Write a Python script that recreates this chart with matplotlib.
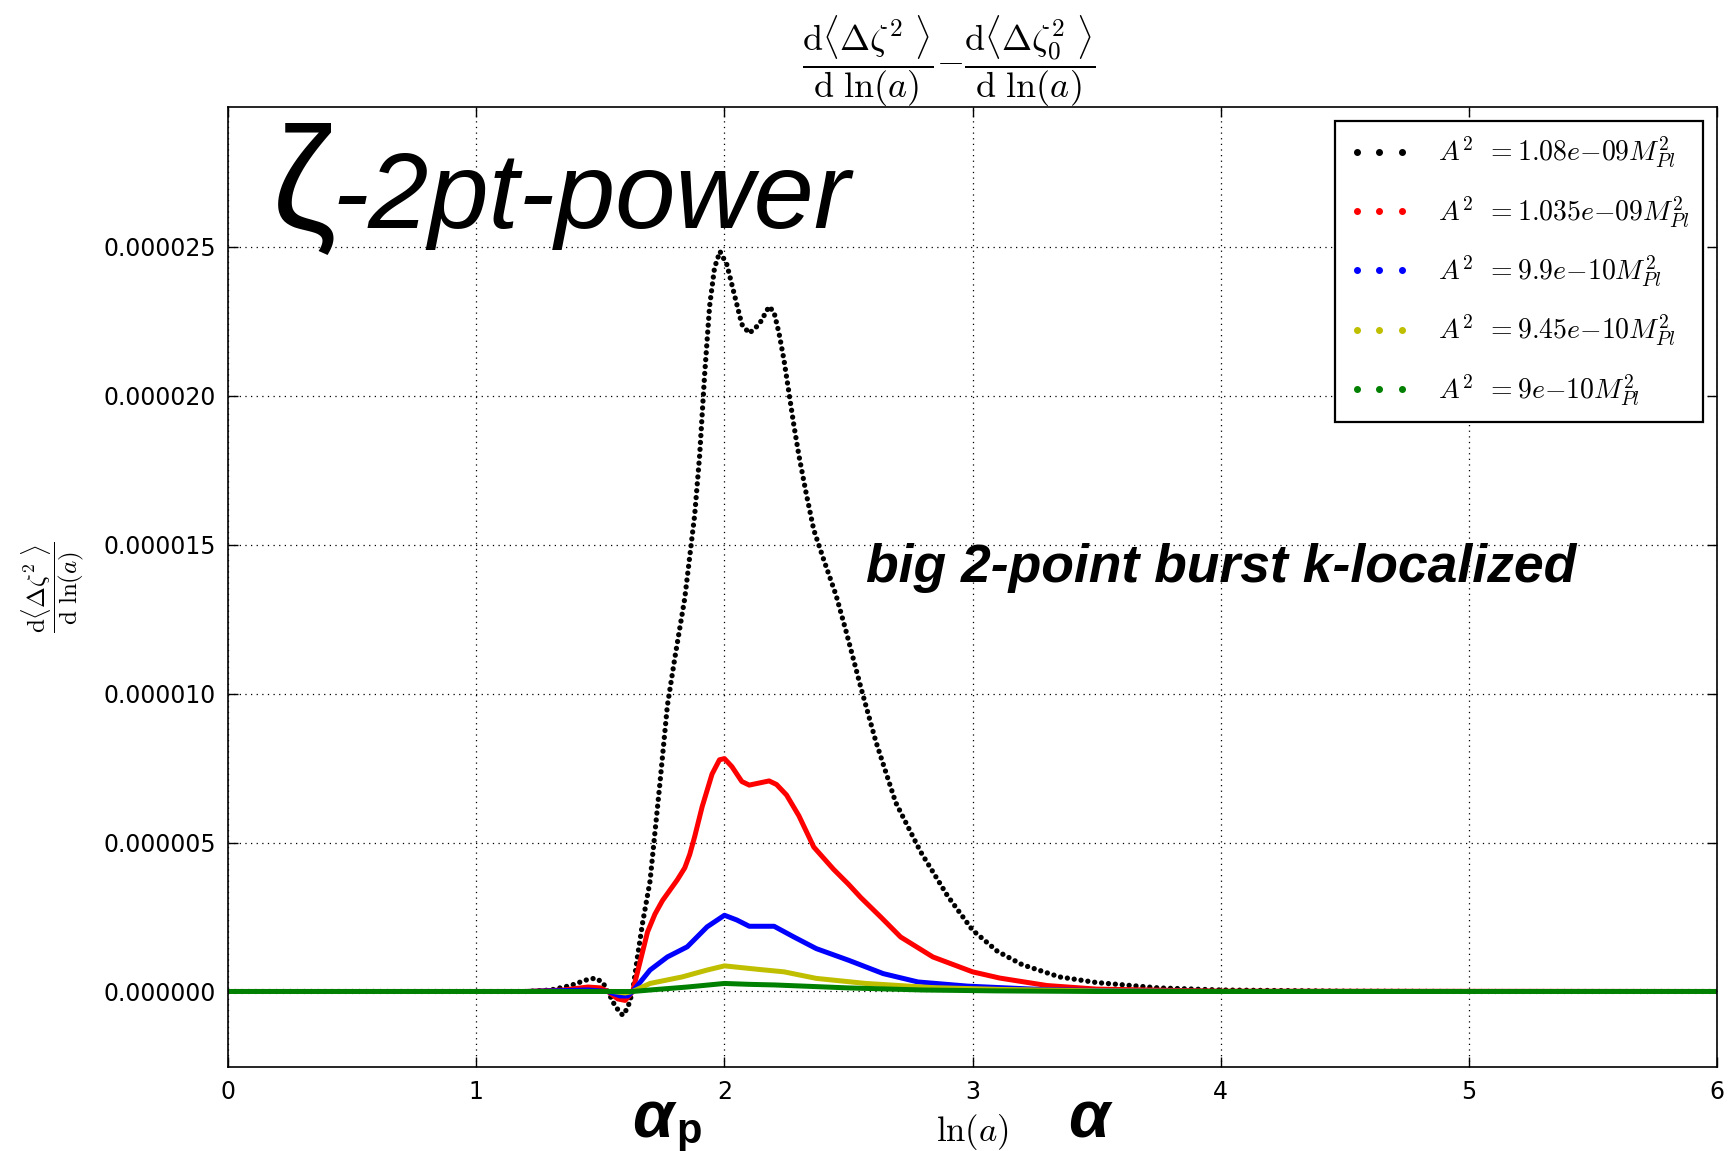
import matplotlib
matplotlib.use("Agg")
import matplotlib.pyplot as plt
from matplotlib.lines import Line2D
from matplotlib.ticker import FormatStrFormatter, MultipleLocator

plt.rcParams['mathtext.fontset'] = 'cm'
plt.rcParams['font.family'] = ['DejaVu Sans']

# ---- data (values in units of 1e-6) ----
x_black = [0.0, 1.0, 1.2, 1.3, 1.38, 1.44, 1.48, 1.51, 1.53, 1.56, 1.59, 1.61, 1.63, 1.65, 1.67,
           1.70, 1.74, 1.77, 1.80, 1.84, 1.88, 1.90, 1.92, 1.94, 1.96, 1.982, 2.01, 2.04, 2.07,
           2.10, 2.14, 2.18, 2.20, 2.22, 2.24, 2.26, 2.28, 2.30, 2.33, 2.36, 2.40, 2.45, 2.49,
           2.55, 2.61, 2.69, 2.79, 2.90, 3.00, 3.10, 3.20, 3.35, 3.50, 3.75, 4.00, 4.50, 5.00, 6.00]
y_black = [0.0, 0.0, 0.0, 0.05, 0.2, 0.38, 0.45, 0.3, 0.0, -0.5, -0.8, -0.55, 0.0, 1.2, 2.3,
           3.7, 7.0, 9.6, 11.2, 13.2, 16.0, 18.0, 20.7, 23.0, 24.3, 24.85, 24.4, 23.4, 22.4,
           22.1, 22.4, 23.0, 22.8, 22.1, 21.2, 20.1, 19.0, 18.0, 16.7, 15.5, 14.5, 13.3, 12.1,
           10.2, 8.4, 6.35, 4.7, 3.2, 2.06, 1.35, 0.9, 0.49, 0.3, 0.12, 0.05, 0.01, 0.0, 0.0]

x_red = [0.0, 1.2, 1.35, 1.45, 1.50, 1.53, 1.57, 1.60, 1.63, 1.66, 1.69, 1.72, 1.75, 1.78,
         1.81, 1.84, 1.86, 1.88, 1.91, 1.95, 1.98, 2.00, 2.03, 2.07, 2.10, 2.14, 2.18, 2.21,
         2.25, 2.30, 2.36, 2.44, 2.50, 2.55, 2.63, 2.71, 2.84, 3.00, 3.11, 3.30, 3.50, 4.00, 6.00]
y_red = [0.0, 0.0, 0.05, 0.15, 0.12, 0.0, -0.25, -0.3, 0.0, 1.0, 2.0, 2.6, 3.05, 3.4,
         3.75, 4.15, 4.6, 5.2, 6.2, 7.3, 7.78, 7.82, 7.55, 7.05, 6.93, 7.0, 7.07, 6.95,
         6.6, 5.9, 4.85, 4.1, 3.6, 3.15, 2.5, 1.83, 1.16, 0.66, 0.45, 0.2, 0.08, 0.01, 0.0]

x_blue = [0.0, 1.2, 1.45, 1.53, 1.58, 1.61, 1.63, 1.70, 1.77, 1.85, 1.93, 2.00, 2.05, 2.10,
          2.20, 2.28, 2.37, 2.50, 2.64, 2.78, 2.98, 3.11, 3.30, 3.60, 4.00, 6.00]
y_blue = [0.0, 0.0, 0.05, 0.0, -0.15, -0.15, 0.0, 0.72, 1.16, 1.5, 2.17, 2.56, 2.4, 2.19,
          2.19, 1.83, 1.44, 1.05, 0.6, 0.32, 0.18, 0.13, 0.06, 0.02, 0.0, 0.0]

x_yellow = [0.0, 1.55, 1.60, 1.63, 1.70, 1.83, 1.93, 2.00, 2.07, 2.14, 2.24, 2.37, 2.57, 2.84,
            3.11, 3.50, 4.00, 6.00]
y_yellow = [0.0, 0.0, -0.05, 0.0, 0.27, 0.49, 0.72, 0.86, 0.8, 0.74, 0.66, 0.44, 0.27, 0.13,
            0.07, 0.02, 0.0, 0.0]

x_green = [0.0, 1.63, 1.70, 1.85, 2.00, 2.10, 2.20, 2.50, 2.80, 3.10, 3.50, 6.00]
y_green = [0.0, 0.0, 0.05, 0.15, 0.27, 0.24, 0.22, 0.12, 0.05, 0.02, 0.0, 0.0]

labels = [r'$A^2\ \,{=}1.08e{-}09M_{Pl}^2$', r'$A^2\ \,{=}1.035e{-}09M_{Pl}^2$',
          r'$A^2\ \,{=}9.9e{-}10M_{Pl}^2$', r'$A^2\ \,{=}9.45e{-}10M_{Pl}^2$',
          r'$A^2\ \,{=}9e{-}10M_{Pl}^2$']
colors = ['black', 'red', 'blue', '#bfbf00', 'green']

fig = plt.figure(figsize=(17.29, 11.51), dpi=100)
ax = fig.add_axes([0.132, 0.0726, 0.861, 0.8345])

scale = 1e-6
ax.plot(x_black, [v * scale for v in y_black], color='black', lw=3.8,
        linestyle=(0, (0.01, 1.3)), dash_capstyle='round', solid_joinstyle='round')
ax.plot(x_red, [v * scale for v in y_red], color='red', lw=3.6, solid_joinstyle='round')
ax.plot(x_blue, [v * scale for v in y_blue], color='blue', lw=3.6, solid_joinstyle='round')
ax.plot(x_yellow, [v * scale for v in y_yellow], color=colors[3], lw=3.6, solid_joinstyle='round')
ax.plot(x_green, [v * scale for v in y_green], color='green', lw=3.6, solid_joinstyle='round')

ax.set_xlim(0, 6)
ax.set_ylim(-2.55e-6, 2.97e-5)
ax.xaxis.set_major_locator(MultipleLocator(1))
ax.yaxis.set_major_locator(MultipleLocator(5e-6))
ax.yaxis.set_major_formatter(FormatStrFormatter('%.6f'))
ax.tick_params(direction='in', top=True, right=True, length=7, width=1,
               labelsize=17, pad=9)
for s in ax.spines.values():
    s.set_linewidth(1.2)
ax.grid(True, color='black', linestyle=(0, (1, 3.5)), linewidth=0.9)

ax.set_title(r'$\dfrac{\mathrm{d}\langle\Delta\zeta^2\ \rangle}{\mathrm{d}\ \ln(a)}{-}'
             r'\dfrac{\mathrm{d}\langle\Delta\zeta_0^2\ \rangle}{\mathrm{d}\ \ln(a)}$',
             fontsize=26, x=0.484, pad=24)
ax.set_ylabel(r'$\dfrac{\mathrm{d}\langle\Delta\zeta^2\ \rangle}{\mathrm{d}\ \ln(a)}$',
              fontsize=18, labelpad=12)
ax.set_xlabel(r'$\ln(a)$', fontsize=25, labelpad=6)

handles = [Line2D([], [], ls='none', marker='.', color=c, markersize=8) for c in colors]
leg = ax.legend(handles, labels, loc='upper right', fontsize=20, numpoints=3,
                fancybox=False, edgecolor='black', framealpha=1,
                borderpad=0.5, labelspacing=0.85, handlelength=2.2, handletextpad=1.0,
                borderaxespad=0.5)
leg.get_frame().set_linewidth(1.6)

# annotations
fig.text(272 / 1729, 1 - 228 / 1151, 'ζ', fontsize=105, family='Liberation Sans',
         va='baseline', ha='left')
fig.text(332 / 1729, 1 - 228 / 1151, '-2pt-power', fontsize=78, family='Liberation Sans',
         style='italic', va='baseline', ha='left')
fig.text(866 / 1729, 1 - 582 / 1151, 'big 2-point burst k-localized', fontsize=38.5,
         family='Liberation Sans', style='italic', weight='bold', va='baseline', ha='left')
fig.text(632 / 1729, 1 - 1138 / 1151, 'α', fontsize=48, family='Liberation Sans',
         style='italic', weight='bold', va='baseline', ha='left')
fig.text(676 / 1729, 1 - 1143 / 1151, 'p', fontsize=30, family='Liberation Sans',
         weight='bold', va='baseline', ha='left')
fig.text(1068 / 1729, 1 - 1138 / 1151, 'α', fontsize=48, family='Liberation Sans',
         style='italic', weight='bold', va='baseline', ha='left')

fig.savefig('out.png', dpi=100)
